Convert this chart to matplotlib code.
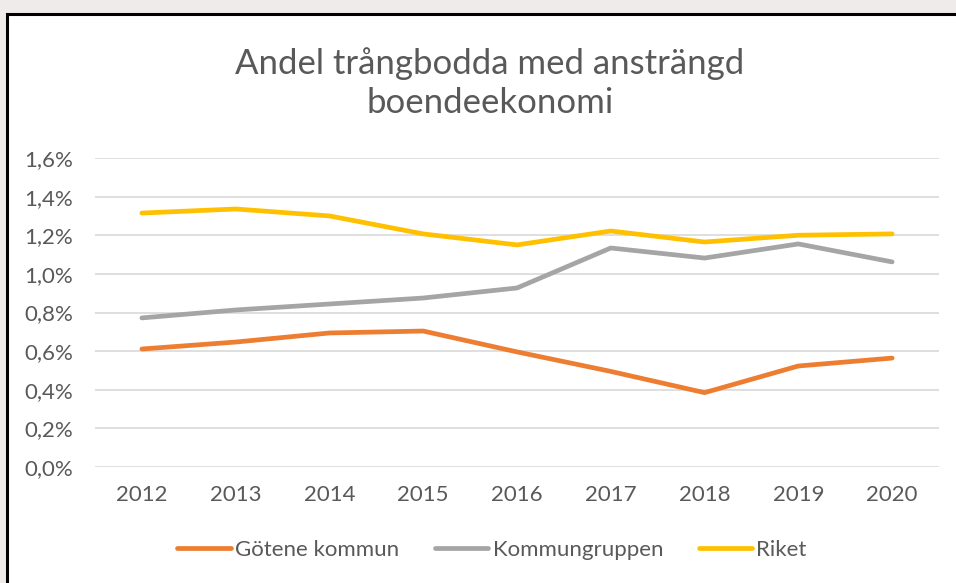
import matplotlib.pyplot as plt
from matplotlib.patches import Rectangle
from matplotlib.ticker import FuncFormatter

plt.rcParams['font.family'] = ['Lato', 'DejaVu Sans']

years = ['2012', '2013', '2014', '2015', '2016', '2017', '2018', '2019', '2020']
gotene = [0.611, 0.647, 0.694, 0.704, 0.596, 0.495, 0.385, 0.523, 0.564]
kommungruppen = [0.772, 0.813, 0.844, 0.875, 0.927, 1.134, 1.082, 1.155, 1.062]
riket = [1.315, 1.336, 1.300, 1.207, 1.150, 1.222, 1.165, 1.200, 1.207]

text_col = '#595959'

fig = plt.figure(figsize=(9.56, 5.83), dpi=100)
fig.patch.set_facecolor('#efebe8')

# chart frame (runs past right and bottom edge)
fig.patches.append(Rectangle((7 / 956, -0.05), 1.0, 1 - 14 / 583 + 0.05,
                             transform=fig.transFigure, facecolor='white',
                             edgecolor='black', linewidth=2.2, zorder=-5))

ax = fig.add_axes([95 / 956, 1 - 467 / 583, (939 - 95) / 956, (467 - 158) / 583])
ax.set_facecolor('none')
ax.set_zorder(5)

x = range(len(years))
ax.plot(x, gotene, color='#ED7D31', lw=3.4, solid_capstyle='round', label='Götene kommun')
ax.plot(x, kommungruppen, color='#A5A5A5', lw=3.4, solid_capstyle='round', label='Kommungruppen')
ax.plot(x, riket, color='#FFC000', lw=3.4, solid_capstyle='round', label='Riket')

ax.set_xlim(-0.5, len(years) - 0.5)
ax.set_ylim(0, 1.6)
ax.set_yticks([0, 0.2, 0.4, 0.6, 0.8, 1.0, 1.2, 1.4, 1.6])
ax.yaxis.set_major_formatter(FuncFormatter(lambda v, p: f'{v:.1f}%'.replace('.', ',')))
ax.set_xticks(list(x))
ax.set_xticklabels(years)
ax.grid(axis='y', color='#D9D9D9', lw=1.2)
ax.set_axisbelow(True)
for s in ax.spines.values():
    s.set_visible(False)
ax.tick_params(length=0, labelsize=16, labelcolor=text_col)
ax.tick_params(axis='x', pad=13)
ax.tick_params(axis='y', pad=16)

fig.text(490 / 956, 1 - 83 / 583, 'Andel trångbodda med ansträngd\nboendeekonomi',
         ha='center', va='center', fontsize=25, color=text_col, linespacing=1.28,
         zorder=6)

leg = ax.legend(loc='center', bbox_to_anchor=((492 - 95) / (939 - 95), -(550 - 467) / (467 - 158)),
                ncol=3, frameon=False, fontsize=16, handlelength=2.4,
                handletextpad=0.2, columnspacing=1.6)
for t in leg.get_texts():
    t.set_color(text_col)

fig.savefig('out.png', dpi=100, facecolor=fig.get_facecolor())
